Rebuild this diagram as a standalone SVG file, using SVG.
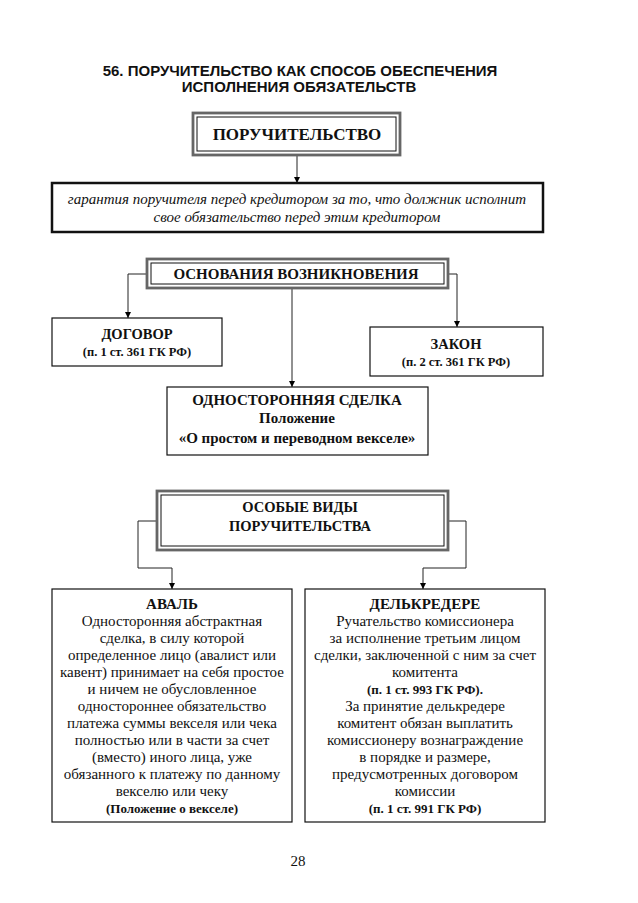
<svg xmlns="http://www.w3.org/2000/svg" width="638" height="903" viewBox="0 0 638 903">
<defs>
<marker id="ar" markerWidth="8" markerHeight="8" refX="6" refY="3" orient="auto" markerUnits="userSpaceOnUse">
<path d="M0,0 L6,3 L0,6 Z" fill="#000"/>
</marker>
<style>
.t{font-family:"Liberation Sans",Arial,sans-serif;font-weight:bold;font-size:15px;fill:#111;text-anchor:middle}
.h{font-family:"Liberation Serif","Times New Roman",serif;font-weight:bold;fill:#111;text-anchor:middle}
.b{font-family:"Liberation Serif","Times New Roman",serif;font-size:15px;fill:#111;text-anchor:middle}
.i{font-family:"Liberation Serif","Times New Roman",serif;font-style:italic;font-size:15px;fill:#111;text-anchor:middle}
.box{fill:#fff;stroke:#111;stroke-width:1.2}
.thick{fill:#fff;stroke:#111;stroke-width:2.5}
.dbl{fill:#fff;stroke:#666;stroke-width:2.8}
.inn{fill:none;stroke:#111;stroke-width:1}
.c{fill:none;stroke:#222;stroke-width:1;marker-end:url(#ar)}
</style>
</defs>
<rect width="638" height="903" fill="#fff"/>
<g id="title">
<text class="t" x="300" y="76">56. ПОРУЧИТЕЛЬСТВО КАК СПОСОБ ОБЕСПЕЧЕНИЯ</text>
<text class="t" x="299" y="92">ИСПОЛНЕНИЯ ОБЯЗАТЕЛЬСТВ</text>
</g>
<g id="connectors">
<path class="c" d="M297,155 V183"/>
<path class="c" d="M147,274 H128 V318"/>
<path class="c" d="M448,274 H457 V327"/>
<path class="c" d="M292,288 V387"/>
<path class="c" d="M157,521 H138 V568 H172 V589"/>
<path class="c" d="M448,521 H466 V568 H423 V589"/>
</g>
<g id="poruch">
<rect class="dbl" x="193" y="113" width="207" height="42"/>
<rect class="inn" x="197" y="117" width="199" height="34"/>
<text class="h" x="297" y="140" font-size="17">ПОРУЧИТЕЛЬСТВО</text>
</g>
<g id="garant">
<rect class="thick" x="52" y="183" width="491" height="49"/>
<text class="i" x="297" y="204">гарантия поручителя перед кредитором за то, что должник исполнит</text>
<text class="i" x="297" y="222">свое обязательство перед этим кредитором</text>
</g>
<g id="osnov">
<rect class="dbl" x="147" y="259" width="301" height="29"/>
<rect class="inn" x="151" y="263" width="293" height="21"/>
<text class="h" x="296" y="279" font-size="15">ОСНОВАНИЯ ВОЗНИКНОВЕНИЯ</text>
</g>
<g id="dogovor">
<rect class="box" x="52" y="318" width="170" height="48"/>
<text class="h" x="137" y="339" font-size="14.5">ДОГОВОР</text>
<text class="h" x="137" y="356" font-size="12.5">(п. 1 ст. 361 ГК РФ)</text>
</g>
<g id="zakon">
<rect class="box" x="370" y="327" width="173" height="49"/>
<text class="h" x="456" y="349" font-size="14.5">ЗАКОН</text>
<text class="h" x="456" y="366" font-size="12.5">(п. 2 ст. 361 ГК РФ)</text>
</g>
<g id="odnostor">
<rect class="box" x="167" y="387" width="261" height="68"/>
<text class="h" x="297" y="405" font-size="15">ОДНОСТОРОННЯЯ СДЕЛКА</text>
<text class="h" x="297" y="423" font-size="15">Положение</text>
<text class="h" x="297" y="443" font-size="15">«О простом и переводном векселе»</text>
</g>
<g id="osobye">
<rect class="dbl" x="157" y="491" width="291" height="59"/>
<rect class="inn" x="161" y="495" width="283" height="51"/>
<text class="h" x="300" y="512" font-size="14.5">ОСОБЫЕ ВИДЫ</text>
<text class="h" x="300" y="531" font-size="14.5">ПОРУЧИТЕЛЬСТВА</text>
</g>
<g id="aval">
<rect class="box" x="52" y="589" width="240" height="233"/>
<text class="h" x="172" y="609" font-size="15">АВАЛЬ</text>
<text class="b" x="172" y="626">Односторонняя абстрактная</text>
<text class="b" x="172" y="643">сделка, в силу которой</text>
<text class="b" x="172" y="660">определенное лицо (авалист или</text>
<text class="b" x="172" y="677">кавент) принимает на себя простое</text>
<text class="b" x="172" y="694">и ничем не обусловленное</text>
<text class="b" x="172" y="711">одностороннее обязательство</text>
<text class="b" x="172" y="728">платежа суммы векселя или чека</text>
<text class="b" x="172" y="745">полностью или в части за счет</text>
<text class="b" x="172" y="762">(вместо) иного лица, уже</text>
<text class="b" x="172" y="779">обязанного к платежу по данному</text>
<text class="b" x="172" y="796">векселю или чеку</text>
<text class="h" x="172" y="813" font-size="13">(Положение о векселе)</text>
</g>
<g id="delkredere">
<rect class="box" x="305" y="589" width="240" height="233"/>
<text class="h" x="425" y="609" font-size="15">ДЕЛЬКРЕДЕРЕ</text>
<text class="b" x="425" y="626">Ручательство комиссионера</text>
<text class="b" x="425" y="643">за исполнение третьим лицом</text>
<text class="b" x="425" y="660">сделки, заключенной с ним за счет</text>
<text class="b" x="425" y="677">комитента</text>
<text class="h" x="425" y="694" font-size="13">(п. 1 ст. 993 ГК РФ).</text>
<text class="b" x="425" y="711">За принятие делькредере</text>
<text class="b" x="425" y="728">комитент обязан выплатить</text>
<text class="b" x="425" y="745">комиссионеру вознаграждение</text>
<text class="b" x="425" y="762">в порядке и размере,</text>
<text class="b" x="425" y="779">предусмотренных договором</text>
<text class="b" x="425" y="796">комиссии</text>
<text class="h" x="425" y="813" font-size="13">(п. 1 ст. 991 ГК РФ)</text>
</g>
<text class="b" x="298" y="866" font-size="15">28</text>
</svg>
